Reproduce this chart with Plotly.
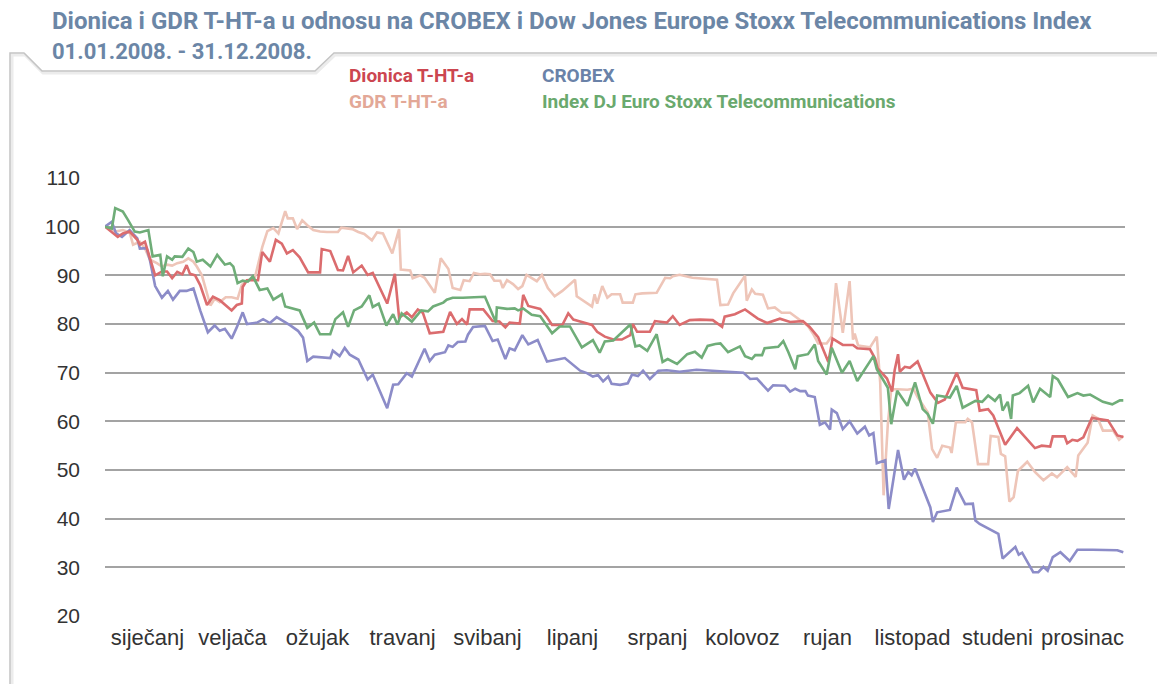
import plotly.graph_objects as go

# ---------------- data (x = time in months since 1 Jan 2008) ----------------
months = ["siječanj", "veljača", "ožujak", "travanj", "svibanj", "lipanj",
          "srpanj", "kolovoz", "rujan", "listopad", "studeni", "prosinac"]
month_centers = [0.5, 1.5, 2.5, 3.5, 4.5, 5.5, 6.5, 7.5, 8.5, 9.5, 10.5, 11.5]
y_ticks = [20, 30, 40, 50, 60, 70, 80, 90, 100, 110]

# Dionica T-HT-a
dionica_t = [0, 0.15, 0.21, 0.29, 0.38, 0.41, 0.47, 0.53, 0.59, 0.67, 0.73, 0.79, 0.85, 0.91, 0.96, 1.0,
             1.06, 1.12, 1.2, 1.27, 1.35, 1.49, 1.55, 1.61, 1.62, 1.67, 1.8, 1.85, 1.94, 2.01, 2.08, 2.14,
             2.21, 2.29, 2.39, 2.53, 2.55, 2.65, 2.74, 2.8, 2.86, 2.92, 3.02, 3.09, 3.15, 3.32, 3.41, 3.46,
             3.55, 3.61, 3.68, 3.74, 3.82, 3.98, 4.06, 4.14, 4.2, 4.26, 4.29, 4.45, 4.56, 4.64, 4.71, 4.76,
             4.88, 4.92, 4.98, 5.12, 5.2, 5.26, 5.38, 5.45, 5.51, 5.59, 5.73, 5.79, 5.88, 5.98, 6.08, 6.18,
             6.21, 6.26, 6.41, 6.47, 6.61, 6.68, 6.76, 6.88, 7.0, 7.15, 7.26, 7.29, 7.41, 7.53, 7.62, 7.68,
             7.79, 7.85, 7.94, 8.06, 8.21, 8.29, 8.39, 8.51, 8.56, 8.68, 8.8, 8.85, 9.0, 9.06, 9.09, 9.2,
             9.26, 9.29, 9.33, 9.35, 9.41, 9.47, 9.56, 9.71, 9.8, 9.88, 10.02, 10.09, 10.2, 10.25, 10.29,
             10.39, 10.45, 10.59, 10.73, 10.94, 11.02, 11.12, 11.15, 11.29, 11.32, 11.38, 11.44, 11.51,
             11.61, 11.71, 11.8, 11.91, 11.98]
dionica = [100, 97.9, 98.6, 99, 97.3, 96.3, 96.9, 93.5, 90, 90.8, 90.8, 89.4, 90.7, 90.2, 92.1, 90.3,
           90, 88, 83.9, 85.6, 84.9, 82.8, 83.9, 84.2, 87.6, 89, 89, 94.8, 92.8, 97.3, 96.5, 94.5,
           95.2, 93.7, 90.6, 90.6, 95.4, 95, 91.1, 91, 94, 90.6, 92, 90.1, 90.5, 84.2, 90.3, 81.3,
           82.4, 81.4, 83, 82.3, 78.1, 78.4, 82.5, 80, 81, 79.9, 83, 83, 80.6, 80.5, 79.3, 80.3,
           80.1, 86, 83.7, 83.1, 81.4, 79.8, 79.8, 82.2, 80.9, 80.5, 79.8, 78.4, 77.4, 76.8, 76.8, 77.7,
           80, 78.4, 78.4, 80.6, 80.3, 81.6, 79.8, 80.8, 80.9, 80.8, 79.4, 81.5, 82, 83, 81.8, 81.1,
           80.2, 80.5, 81.1, 80.4, 80.6, 79.4, 77.3, 72.2, 77, 75.7, 75.7, 75, 74.8, 72.9, 70.9, 68.8,
           66.1, 70.5, 73.8, 70.2, 71.2, 71, 72.3, 65.9, 63.8, 64.5, 70, 66.9, 66.6, 66.4, 62.2,
           62.5, 61.2, 55.2, 58.6, 54.5, 55, 54.8, 56.9, 56.9, 55.5, 56.2, 56, 56.7,
           60.7, 60.4, 60.2, 57.1, 56.8]

# GDR T-HT-a
gdr_t = [0, 0.12, 0.21, 0.29, 0.33, 0.41, 0.47, 0.53, 0.61, 0.67, 0.73, 0.79, 0.85, 0.92, 0.98, 1.04,
         1.08, 1.14, 1.24, 1.29, 1.35, 1.42, 1.49, 1.56, 1.61, 1.67, 1.76, 1.85, 1.91, 1.98, 2.04, 2.12,
         2.15, 2.21, 2.26, 2.32, 2.38, 2.45, 2.53, 2.61, 2.74, 2.78, 2.91, 2.98, 3.05, 3.14, 3.2, 3.27,
         3.38, 3.46, 3.48, 3.59, 3.62, 3.71, 3.76, 3.88, 3.95, 4.04, 4.09, 4.18, 4.22, 4.29, 4.34, 4.41,
         4.47, 4.53, 4.58, 4.65, 4.68, 4.73, 4.8, 4.86, 4.91, 4.96, 5.08, 5.14, 5.21, 5.29, 5.38, 5.45,
         5.53, 5.55, 5.73, 5.76, 5.79, 5.85, 5.91, 5.96, 6.06, 6.09, 6.21, 6.24, 6.32, 6.49, 6.59, 6.65,
         6.68, 6.76, 6.84, 6.91, 7.2, 7.24, 7.33, 7.39, 7.53, 7.55, 7.61, 7.65, 7.74, 7.8, 7.88, 7.96,
         8.06, 8.12, 8.21, 8.27, 8.33, 8.39, 8.49, 8.55, 8.6, 8.68, 8.76, 8.8, 8.82, 8.86, 9.0, 9.08,
         9.12, 9.16, 9.21, 9.25, 9.32, 9.44, 9.51, 9.56, 9.65, 9.68, 9.73, 9.79, 9.85, 9.94, 9.96,
         10.01, 10.12, 10.15, 10.2, 10.27, 10.39, 10.42, 10.51, 10.54, 10.59, 10.64, 10.69, 10.74,
         10.85, 10.94, 11.04, 11.14, 11.2, 11.32, 11.42, 11.45, 11.56, 11.62, 11.68, 11.74, 11.86,
         11.93, 11.98]
gdr = [100, 99, 99.3, 98.8, 96.3, 96.9, 95.5, 93.2, 92.5, 91.8, 92.2, 92, 92.5, 92.8, 93.5, 92.8,
       91.8, 90, 83.8, 85.2, 84.5, 85.5, 85.5, 85.2, 88, 89, 89.3, 95.8, 99.1, 99.7, 98.6, 103.2,
       101.7, 101.7, 99.5, 101.3, 100.3, 99.3, 99, 98.9, 98.9, 99.8, 99.5, 98.9, 98.5, 97.2, 98.8, 98.6,
       94.5, 99.5, 91.2, 91, 89.4, 90, 89.5, 86.4, 93.5, 91.3, 87.4, 87, 89, 88.8, 90.5, 90.2,
       90.3, 90.2, 88.9, 88.9, 87.4, 89, 88.2, 87.2, 87.8, 90.1, 88.8, 90.1, 87.4, 85.7, 86.8, 87.8,
       89.1, 85.7, 83.6, 86.1, 84.2, 87.8, 85.4, 86.1, 86.1, 84.4, 84.4, 86.1, 86.3, 86.4, 89.5, 89.4,
       89.8, 90.1, 89.8, 89.5, 89.1, 83.9, 84, 86.3, 89.9, 84.8, 87.1, 86.2, 86, 83.2, 83.4, 82.3,
       82.3, 81.5, 80.3, 79.6, 78, 76, 76, 77.5, 88.4, 78.2, 88.8, 76.8, 78, 75.6, 75.2, 77.4,
       68, 44.8, 59.5, 66.6, 66.6, 66.5, 66.7, 65, 62.6, 61.8, 54.3, 52.5, 55, 54.6, 53.5,
       59.8, 59.8, 60.5, 59.8, 51.2, 51.2, 57, 56.8, 53.3, 52.8, 43.5, 44.4, 49.8,
       51.7, 49.6, 47.9, 49.3, 48.5, 50.6, 48.6, 53, 55.6, 61.2, 60.6, 58.1, 58.1,
       56.2, 57]

# CROBEX
crobex_t = [0, 0.08, 0.13, 0.2, 0.29, 0.38, 0.41, 0.49, 0.53, 0.59, 0.67, 0.74, 0.8, 0.88, 0.96, 1.04,
            1.12, 1.21, 1.29, 1.35, 1.41, 1.49, 1.55, 1.62, 1.67, 1.79, 1.86, 1.94, 2.02, 2.09, 2.18, 2.27,
            2.33, 2.38, 2.45, 2.65, 2.68, 2.76, 2.82, 2.88, 2.98, 3.09, 3.15, 3.32, 3.39, 3.45, 3.55, 3.61,
            3.76, 3.82, 3.88, 4.0, 4.04, 4.09, 4.15, 4.24, 4.27, 4.33, 4.47, 4.56, 4.62, 4.71, 4.76, 4.82,
            4.91, 4.98, 5.09, 5.2, 5.41, 5.59, 5.67, 5.74, 5.8, 5.86, 5.92, 5.96, 6.06, 6.15, 6.2, 6.27,
            6.33, 6.41, 6.51, 6.61, 6.76, 6.96, 7.2, 7.51, 7.59, 7.67, 7.8, 7.86, 8.0, 8.06, 8.12, 8.18,
            8.24, 8.27, 8.35, 8.41, 8.47, 8.53, 8.55, 8.61, 8.68, 8.76, 8.85, 8.94, 8.99, 9.04, 9.08, 9.18,
            9.22, 9.33, 9.4, 9.45, 9.49, 9.53, 9.71, 9.74, 9.79, 9.94, 10.02, 10.12, 10.21, 10.24, 10.29,
            10.51, 10.56, 10.65, 10.71, 10.75, 10.79, 10.92, 10.98, 11.04, 11.09, 11.15, 11.24, 11.35,
            11.44, 11.62, 11.91, 11.98]
crobex = [100, 101, 98.6, 97.9, 99.3, 97.6, 95.5, 95.6, 93, 87.8, 85.4, 86.8, 85, 86.8, 86.8, 87.3,
          82.8, 78.3, 79.7, 78.6, 79, 77, 79.3, 82.4, 80, 80.3, 81, 80.2, 81.4, 80.7, 79.7, 78.6,
          77.2, 72.4, 73.3, 73, 74.5, 73.4, 75.1, 73.7, 72.7, 68.6, 69.6, 62.7, 67.5, 67.6, 69.9, 69.2,
          74.9, 72.4, 73.7, 74.2, 75.6, 75.3, 76.3, 76.4, 77.8, 79.4, 79.6, 76.5, 76.8, 72.8, 75, 74.6,
          77.7, 75.8, 76.7, 72.3, 73, 70.4, 69.9, 69.2, 69.5, 68.2, 69.2, 67.7, 67.5, 67.8, 69.6, 69.3,
          70.4, 68.7, 70.4, 70.5, 70.2, 70.6, 70.4, 70, 68.7, 68.8, 66.3, 67.4, 67.3, 66.1, 66.7, 66.2,
          66.2, 65.3, 65, 59.3, 59.8, 58.3, 62.4, 61.7, 58.4, 60, 57.5, 58.9, 57.1, 57.6, 51.4, 52,
          42, 54.1, 48, 49.6, 48.9, 50.3, 42.3, 39.3, 41.3, 41.8, 46.4, 43, 43.1, 39.6, 38.9,
          36.9, 31.8, 33.2, 34.2, 32.6, 33, 29, 29, 30.1, 29.3, 32.1, 33.1, 31.3,
          33.6, 33.6, 33.5, 33.1]

# Index DJ Euro Stoxx Telecommunications
djstoxx_t = [0, 0.08, 0.12, 0.21, 0.27, 0.35, 0.41, 0.51, 0.56, 0.65, 0.68, 0.73, 0.79, 0.82, 0.91, 0.98,
             1.04, 1.08, 1.15, 1.24, 1.32, 1.41, 1.47, 1.51, 1.56, 1.62, 1.68, 1.74, 1.82, 1.91, 1.98, 2.08,
             2.12, 2.29, 2.38, 2.46, 2.53, 2.65, 2.71, 2.8, 2.86, 2.93, 3.02, 3.11, 3.15, 3.22, 3.31, 3.39,
             3.44, 3.49, 3.61, 3.72, 3.8, 3.86, 3.98, 4.02, 4.09, 4.21, 4.47, 4.6, 4.61, 4.73, 4.82, 4.86,
             4.92, 5.02, 5.12, 5.26, 5.35, 5.47, 5.61, 5.74, 5.82, 5.88, 5.98, 6.18, 6.24, 6.29, 6.38, 6.49,
             6.56, 6.62, 6.73, 6.85, 6.94, 7.02, 7.09, 7.18, 7.24, 7.33, 7.47, 7.53, 7.61, 7.65, 7.73, 7.76,
             7.92, 7.98, 8.04, 8.12, 8.15, 8.27, 8.35, 8.39, 8.49, 8.55, 8.67, 8.76, 8.85, 9.04, 9.08, 9.21,
             9.25, 9.32, 9.44, 9.53, 9.62, 9.68, 9.74, 9.79, 9.94, 10.02, 10.09, 10.24, 10.32, 10.39, 10.47,
             10.53, 10.56, 10.62, 10.66, 10.68, 10.76, 10.86, 10.92, 11.0, 11.12, 11.15, 11.21, 11.33,
             11.44, 11.51, 11.59, 11.74, 11.85, 11.94, 11.98]
djstoxx = [100, 99.6, 103.8, 103.1, 101.4, 99, 98.8, 99.3, 93.9, 94.2, 89.8, 93.9, 93.2, 93.9, 93.8, 95.5,
           94.8, 92.8, 93.2, 91.8, 94.2, 92.2, 92.5, 91.8, 88.4, 88.9, 88.7, 89.8, 87, 87.3, 85, 86.1,
           83.6, 82.8, 79.2, 80.3, 77.9, 77.9, 81, 82.4, 79.4, 82.8, 83.6, 85.9, 83.5, 84.2, 79.7, 82,
           79.9, 82.2, 80.5, 82.8, 82.6, 83.6, 84.4, 85, 85.4, 85.4, 85.6, 80.3, 83.4, 83.1, 83.2, 82.8,
           83.2, 81.9, 81.6, 78.1, 79.5, 79.5, 75.2, 76.7, 74.1, 76.4, 76.6, 79.9, 75.4, 75.6, 74.5, 77.9,
           72.2, 72.8, 71.8, 73.8, 74.3, 73.1, 75.5, 75.9, 76, 74.2, 75.4, 73.4, 72.8, 73.6, 73.6, 75,
           75.3, 76.5, 74.2, 70.7, 73.4, 73.8, 75.8, 72.4, 69.6, 75.1, 70, 72.4, 68.3, 73.4, 70.7, 66.9,
           59.4, 66.3, 63.2, 68, 62.5, 61.5, 59.5, 65.3, 64.9, 67.3, 62.8, 64.2, 64, 65.3, 64.2,
           65.5, 62.2, 64, 60.5, 65.3, 65.8, 67.3, 63.9, 66.7, 65, 69.3, 68.6, 65,
           65.8, 65.3, 65.5, 64, 63.5, 64.3, 64.3]

series = [
    ("GDR T-HT-a", gdr_t, gdr, "#eec5b8", "#e3a897"),
    ("CROBEX", crobex_t, crobex, "#8c8cc8", "#6a82a8"),
    ("Dionica T-HT-a", dionica_t, dionica, "#db6c6e", "#cc4650"),
    ("Index DJ Euro Stoxx Telecommunications", djstoxx_t, djstoxx, "#6fad78", "#6aa96e"),
]

# ---------------- layout geometry ----------------
W, H = 1157, 684
ML, MR, MT, MB = 105, 32, 178, 68
PW, PH = W - ML - MR, H - MT - MB


def px(xp):
    return (xp - ML) / PW


def py(yp):
    return (H - MB - yp) / PH


HEAD = "Roboto, Liberation Sans, sans-serif"
REG = "Liberation Sans, Arial, sans-serif"

fig = go.Figure()
for name, t, v, col, _ in series:
    fig.add_trace(go.Scatter(x=t, y=v, mode="lines", name=name, showlegend=False,
                             line=dict(color=col, width=2.6), hoverinfo="skip"))

annotations = [
    dict(text="<b>Dionica i GDR T-HT-a u odnosu na CROBEX i Dow Jones Europe Stoxx Telecommunications Index</b>",
         x=px(50), y=py(21), xref="paper", yref="paper", xanchor="left", yanchor="middle", showarrow=False,
         font=dict(family=HEAD, size=24, color="#6b86a6")),
    dict(text="<b>01.01.2008. - 31.12.2008.</b>", x=px(50), y=py(52), xref="paper", yref="paper",
         xanchor="left", yanchor="middle", showarrow=False, font=dict(family=HEAD, size=22, color="#6b86a6")),
]
legend_pos = {
    "Dionica T-HT-a": (347, 75),
    "CROBEX": (540, 75),
    "GDR T-HT-a": (347, 102),
    "Index DJ Euro Stoxx Telecommunications": (540, 102),
}
for name, t, v, col, tcol in series:
    lx, ly = legend_pos[name]
    annotations.append(dict(text="<b>" + name + "</b>", x=px(lx), y=py(ly), xref="paper", yref="paper",
                            xanchor="left", yanchor="middle", showarrow=False,
                            font=dict(family=HEAD, size=19, color=tcol)))

frame_path = "M {a},{b} L {a},{c} L {d},{c} L {e},{f} L {g},{f} L {h},{c} L {i},{c}".format(
    a=px(10), b=py(700), c=py(53), d=px(24), e=px(42), f=py(71), g=px(315), h=px(334), i=px(1170))
shadow_path = "M {a},{b} L {a},{c} L {d},{c} L {e},{f} L {g},{f} L {h},{c} L {i},{c}".format(
    a=px(12), b=py(700), c=py(55), d=px(25), e=px(43), f=py(73), g=px(316), h=px(335), i=px(1170))
shapes = [
    dict(type="path", path=shadow_path, xref="paper", yref="paper",
         line=dict(color="#ececec", width=3)),
    dict(type="path", path=frame_path, xref="paper", yref="paper",
         line=dict(color="#c4c4c4", width=1.5)),
]

fig.update_layout(
    width=W, height=H,
    margin=dict(l=ML, r=MR, t=MT, b=MB, pad=0),
    paper_bgcolor="white", plot_bgcolor="white",
    showlegend=False,
    annotations=annotations,
    shapes=shapes,
    xaxis=dict(range=[0, 12], tickmode="array", tickvals=month_centers, ticktext=months,
               showgrid=False, zeroline=False, showline=False, ticks="",
               tickfont=dict(family=REG, size=22, color="#333333"), ticklabelstandoff=6, fixedrange=True),
    yaxis=dict(range=[20, 110], tickmode="array", tickvals=y_ticks,
               showgrid=True, gridcolor="#a3a3a3", gridwidth=1.5, zeroline=False, showline=False,
               ticks="", tickfont=dict(family=REG, size=21, color="#333333"), ticklabelstandoff=24,
               fixedrange=True),
    hovermode=False,
)

fig.write_html("out.html", config={"displayModeBar": False},
               post_script="document.body.style.margin='0';")
